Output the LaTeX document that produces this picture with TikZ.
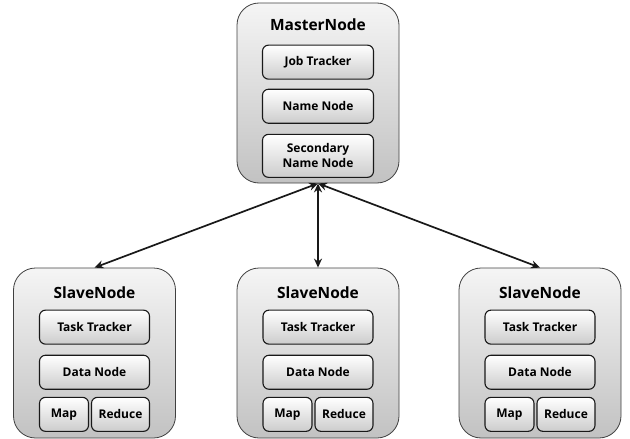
\documentclass[tikz,border=0pt]{standalone}
\usepackage{fontspec}
\setmainfont{Open Sans}[BoldFont={Open Sans Bold}]
\usetikzlibrary{positioning, arrows.meta}
\tikzstyle{outerbox} = [rectangle, rounded corners=22pt, draw=black!75, line width=0.8pt, top color=black!4, bottom color=black!24, minimum width=162pt]
\tikzstyle{innerbox} = [rectangle, rounded corners=6pt, draw=black!90, line width=1.1pt, top color=white, bottom color=black!20, minimum height=34pt, text centered, font=\fontsize{12}{15}\selectfont\bfseries, align=center, inner sep=1pt]
\tikzstyle{titletext} = [font=\fontsize{15.5}{18}\selectfont\bfseries]
\tikzstyle{arrow} = [line width=1.7pt, {Stealth[length=9pt,width=8pt]}-{Stealth[length=9pt,width=8pt]}, black!90]

\begin{document}
\begin{tikzpicture}[x=1pt,y=1pt]
    \useasboundingbox (0,0) rectangle (630,-439);
    %master
    \node (master) [outerbox, minimum height=180pt] at (318,-93) {};
    \node (mtitle) [titletext] at ([yshift=-22pt]master.north) {MasterNode};
    \node (jt) [innerbox, minimum width=111pt, below=42pt of master.north] {Job Tracker};
    \node (nn) [innerbox, minimum width=111pt, below=9pt of jt] {Name Node};
    \node (sn) [innerbox, minimum width=111pt, minimum height=43pt, below=10pt of nn] {Secondary\\Name Node};

    %slave 1
    \node (s1) [outerbox, minimum height=170pt] at (94.5,-353) {};
    \node (s1title) [titletext] at ([yshift=-25pt]s1.north) {SlaveNode};
    \node (s1tt) [innerbox, minimum width=110pt, below=42pt of s1.north] {Task Tracker};
    \node (s1dn) [innerbox, minimum width=110pt, below=10pt of s1tt] {Data Node};
    \node (s1map) [innerbox, minimum width=49pt, below right=7pt and 0pt of s1dn.south west] {Map};
    \node (s1red) [innerbox, minimum width=58pt, below left=7pt and 0pt of s1dn.south east] {Reduce};

    %slave 2
    \node (s2) [outerbox, minimum height=170pt] at (318,-353) {};
    \node (s2title) [titletext] at ([yshift=-25pt]s2.north) {SlaveNode};
    \node (s2tt) [innerbox, minimum width=110pt, below=42pt of s2.north] {Task Tracker};
    \node (s2dn) [innerbox, minimum width=110pt, below=10pt of s2tt] {Data Node};
    \node (s2map) [innerbox, minimum width=49pt, below right=7pt and 0pt of s2dn.south west] {Map};
    \node (s2red) [innerbox, minimum width=58pt, below left=7pt and 0pt of s2dn.south east] {Reduce};

    %slave 3
    \node (s3) [outerbox, minimum height=170pt] at (540,-353) {};
    \node (s3title) [titletext] at ([yshift=-25pt]s3.north) {SlaveNode};
    \node (s3tt) [innerbox, minimum width=110pt, below=42pt of s3.north] {Task Tracker};
    \node (s3dn) [innerbox, minimum width=110pt, below=10pt of s3tt] {Data Node};
    \node (s3map) [innerbox, minimum width=49pt, below right=7pt and 0pt of s3dn.south west] {Map};
    \node (s3red) [innerbox, minimum width=58pt, below left=7pt and 0pt of s3dn.south east] {Reduce};

    %arrows
    \draw [arrow] (master.south) -- (s1.north);
    \draw [arrow] (master.south) -- (s2.north);
    \draw [arrow] (master.south) -- (s3.north);
\end{tikzpicture}
\end{document}
